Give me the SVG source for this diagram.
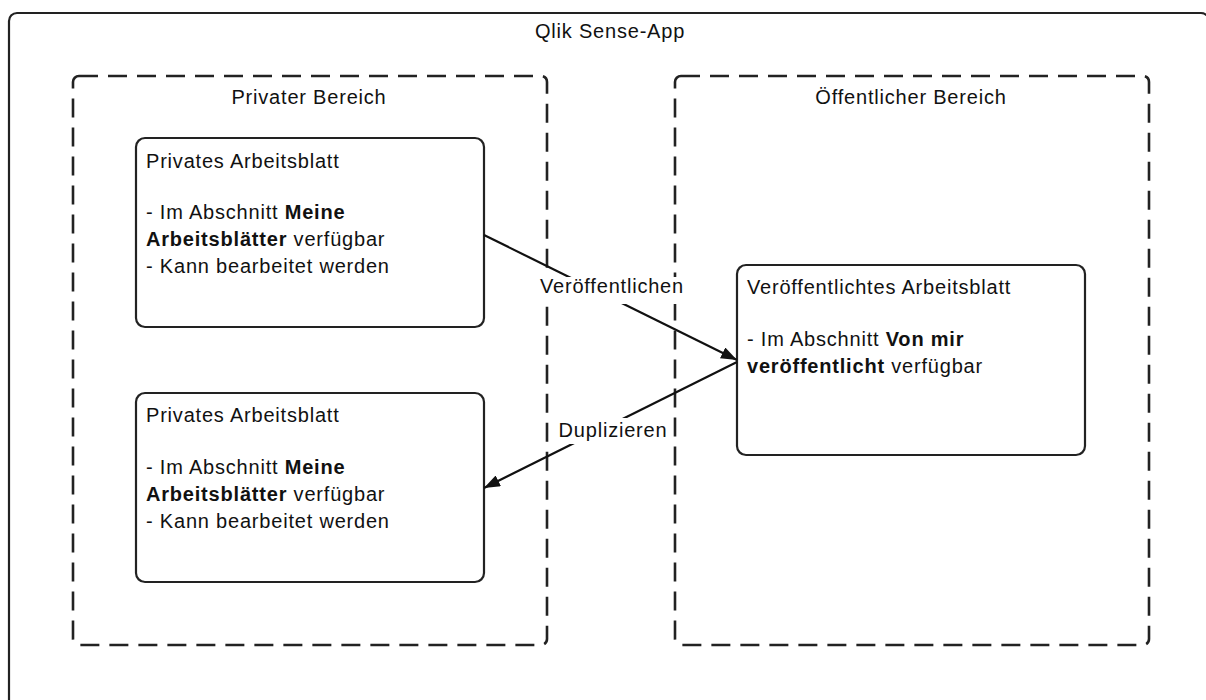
<svg xmlns="http://www.w3.org/2000/svg" width="1206" height="700" viewBox="0 0 1206 700">
  <style>
    text { font-family: "Liberation Sans", Arial, sans-serif; font-size: 20px; fill: #111; letter-spacing: 0.8px; }
    .b { font-weight: bold; }
    .mid { text-anchor: middle; }
    .frame { fill: #fff; stroke: #222; stroke-width: 2.2; }
    .zone { fill: none; stroke: #222; stroke-width: 2.6; stroke-dasharray: 19 10; }
    .card { fill: #fff; stroke: #222; stroke-width: 2.2; }
    .link { fill: none; stroke: #111; stroke-width: 2.2; }
    .lblbg { fill: #fff; }
  </style>
  <defs>
    <marker id="arrow" viewBox="0 0 16 12" refX="16" refY="6" markerWidth="16" markerHeight="12" markerUnits="userSpaceOnUse" orient="auto">
      <path d="M0,0 L16,6 L0,12 Z" fill="#111"/>
    </marker>
  </defs>

  <rect width="1206" height="700" fill="#fff"/>

  <!-- app container -->
  <g id="app">
    <rect class="frame" x="9" y="13" width="1200" height="700" rx="8"/>
    <text class="mid" x="610" y="38">Qlik Sense-App</text>
  </g>

  <!-- areas -->
  <g id="private-area">
    <rect class="zone" x="73" y="76" width="474" height="569" rx="6"/>
    <text class="mid" x="309" y="104">Privater Bereich</text>
  </g>
  <g id="public-area">
    <rect class="zone" x="675" y="76" width="474" height="569" rx="6"/>
    <text class="mid" x="911" y="104">Öffentlicher Bereich</text>
  </g>

  <!-- sheets -->
  <g id="private-sheet-1">
    <rect class="card" x="136" y="138" width="348" height="189" rx="9"/>
    <text x="146" y="167.5">Privates Arbeitsblatt</text>
    <text x="146" y="219">- Im Abschnitt <tspan class="b">Meine</tspan></text>
    <text x="146" y="246"><tspan class="b">Arbeitsblätter</tspan> verfügbar</text>
    <text x="146" y="272.5">- Kann bearbeitet werden</text>
  </g>

  <g id="private-sheet-2">
    <rect class="card" x="136" y="393" width="348" height="189" rx="9"/>
    <text x="146" y="422">Privates Arbeitsblatt</text>
    <text x="146" y="474">- Im Abschnitt <tspan class="b">Meine</tspan></text>
    <text x="146" y="501"><tspan class="b">Arbeitsblätter</tspan> verfügbar</text>
    <text x="146" y="527.5">- Kann bearbeitet werden</text>
  </g>

  <g id="published-sheet">
    <rect class="card" x="737" y="265" width="348" height="190" rx="9"/>
    <text x="747" y="294">Veröffentlichtes Arbeitsblatt</text>
    <text x="747" y="346">- Im Abschnitt <tspan class="b">Von mir</tspan></text>
    <text x="747" y="373"><tspan class="b">veröffentlicht</tspan> verfügbar</text>
  </g>

  <!-- connectors -->
  <g id="connectors">
    <path class="link" d="M484,235 L737,360" marker-end="url(#arrow)"/>
    <path class="link" d="M737,362 L484,488" marker-end="url(#arrow)"/>
    <rect class="lblbg" x="538" y="277" width="150" height="27"/>
    <text class="mid" x="612" y="293">Veröffentlichen</text>
    <rect class="lblbg" x="556" y="418" width="114" height="26"/>
    <text class="mid" x="613" y="437">Duplizieren</text>
  </g>
</svg>
